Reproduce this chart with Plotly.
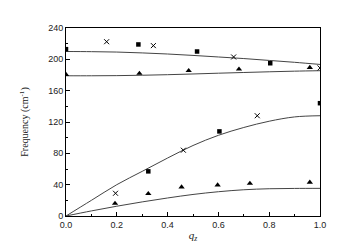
import plotly.graph_objects as go

# Measured points
sq_x = [0.0, 0.285, 0.516, 0.804, 1.0, 0.604, 0.324]
sq_y = [213, 219, 210, 195, 144, 108, 57]
cr_x = [0.16, 0.344, 0.66, 1.0, 0.753, 0.462, 0.195]
cr_y = [222.5, 217.5, 203, 189, 128, 84, 29]
tr_x = [0.0, 0.289, 0.483, 0.681, 0.96, 0.193, 0.324, 0.455, 0.597, 0.724, 0.96]
tr_y = [180.5, 182, 185.5, 187.5, 189.5, 16, 28.5, 37, 39.5, 41.5, 43]

# Theory curves
cx = [0.0, 0.1, 0.2, 0.3, 0.4, 0.5, 0.6, 0.7, 0.8, 0.9, 1.0]
c1 = [210, 209.8, 209.3, 208.2, 206.8, 205, 203, 201, 198.6, 196.2, 193.5]
c2 = [179, 179, 179.2, 179.7, 180.4, 181.3, 182.3, 183.2, 184.1, 184.9, 185.5]
c3 = [0, 20, 40, 57, 74, 90, 103, 113, 121, 126.5, 128]
c4 = [0, 6.5, 12.5, 18, 23, 27.5, 31, 33.5, 34.8, 35.2, 35.3]

fig = go.Figure()
for cy in (c1, c2, c3, c4):
    fig.add_trace(go.Scatter(x=cx, y=cy, mode="lines", line=dict(color="#444444", width=1, shape="spline"),
                             showlegend=False, hoverinfo="skip"))
fig.add_trace(go.Scatter(x=sq_x, y=sq_y, mode="markers", marker=dict(symbol="square", size=4.5, color="black"), showlegend=False))
fig.add_trace(go.Scatter(x=cr_x, y=cr_y, mode="markers", marker=dict(symbol="x-thin", size=5, line=dict(color="black", width=1)), showlegend=False))
fig.add_trace(go.Scatter(x=tr_x, y=tr_y, mode="markers", marker=dict(symbol="triangle-up", size=5.5, color="black"), showlegend=False))

axis_common = dict(showgrid=False, zeroline=False, showline=True, linecolor="black", linewidth=1,
                   mirror=True, ticks="inside", ticklen=4, tickcolor="black", automargin=True,
                   tickfont=dict(family="Liberation Sans, Arial", size=9, color="#222"))
fig.update_xaxes(range=[0, 1], dtick=0.2, tickformat=".1f",
                 minor=dict(ticks="inside", ticklen=2, dtick=0.1, tickcolor="black"),
                 title=dict(text="<i>q<sub>z</sub></i>", font=dict(family="Liberation Serif, Times New Roman", size=11, color="#222"), standoff=2),
                 **axis_common)
fig.update_yaxes(range=[0, 240], dtick=40,
                 minor=dict(ticks="inside", ticklen=2, dtick=20, tickcolor="black"),
                 title=dict(text="Frequency (cm<sup>-1</sup>)", font=dict(family="Liberation Serif, Times New Roman", size=10, color="#222"), standoff=17),
                 **axis_common)
fig.update_layout(width=338, height=250, margin=dict(l=58, r=26, t=20, b=42),
                  plot_bgcolor="white", paper_bgcolor="white")
fig.write_html("out.html")
